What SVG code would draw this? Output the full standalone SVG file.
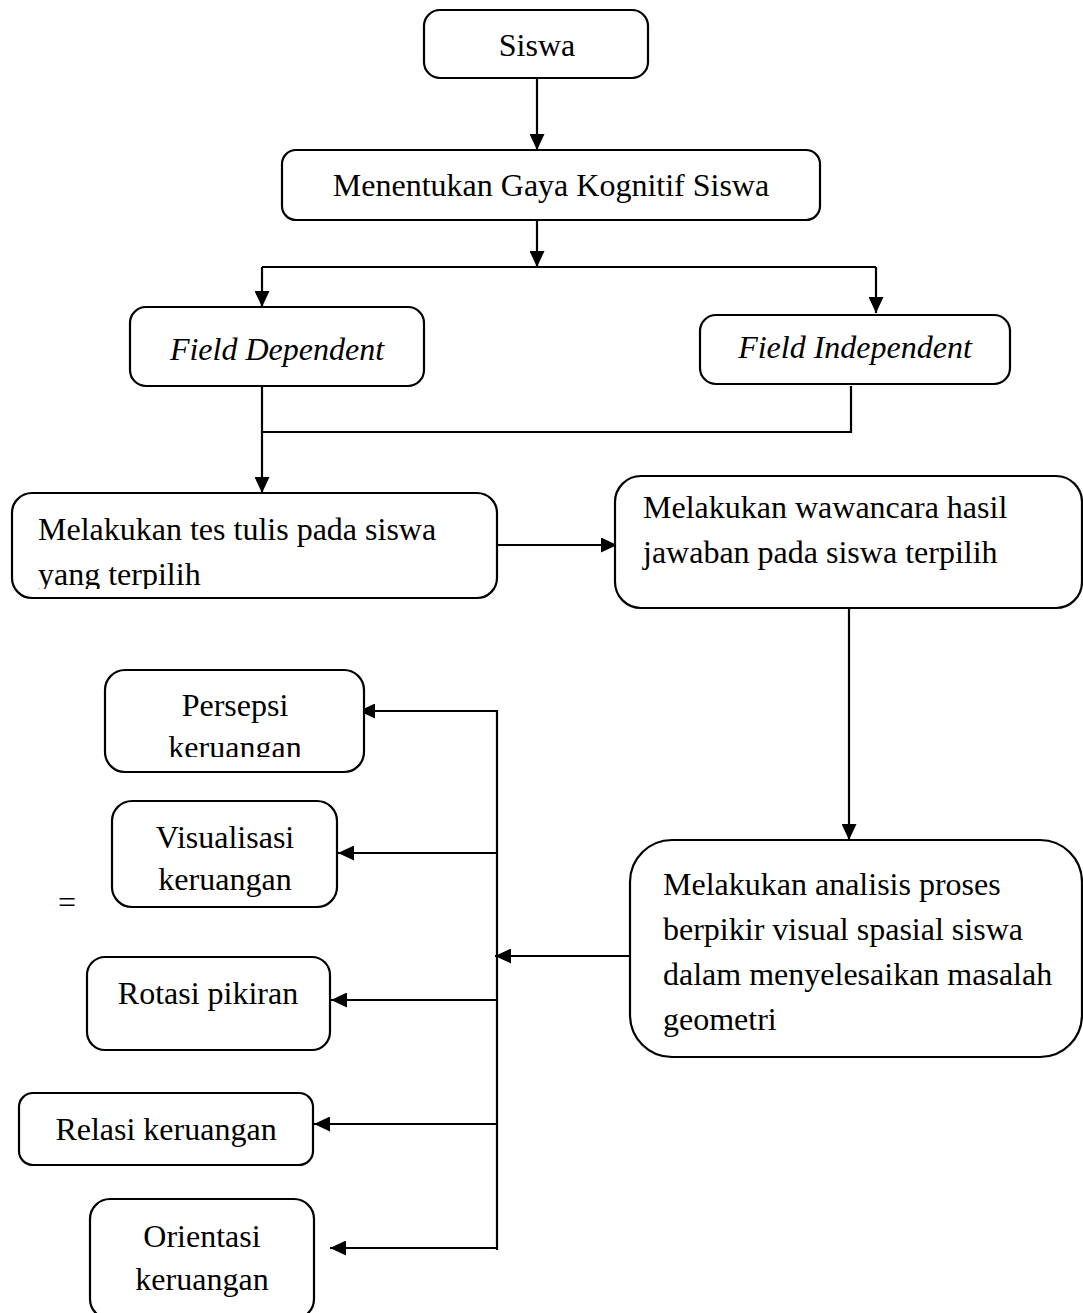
<svg xmlns="http://www.w3.org/2000/svg" width="1083" height="1313" viewBox="0 0 1083 1313">
<style>
.box{fill:#fff;stroke:#000;stroke-width:2.2}
.t{font-family:"Liberation Serif","Times New Roman",serif;font-size:32px;fill:#000}
.c{text-anchor:middle}
.i{font-style:italic}
.ln{fill:none;stroke:#000;stroke-width:2.2}
</style>
<defs>
<marker id="ah" markerUnits="userSpaceOnUse" markerWidth="17" markerHeight="15" refX="16" refY="7.5" orient="auto">
<path d="M0,0 L16,7.5 L0,15 z" fill="#000"/>
</marker>
<clipPath id="cp1"><rect x="0" y="0" width="1083" height="589"/></clipPath>
<clipPath id="cp2"><rect x="0" y="0" width="1083" height="757"/></clipPath>
</defs>
<rect width="1083" height="1313" fill="#fff"/>
<g id="connectors">
<line class="ln" x1="537" y1="78" x2="537" y2="150" marker-end="url(#ah)"/>
<line class="ln" x1="537" y1="220" x2="537" y2="267" marker-end="url(#ah)"/>
<polyline class="ln" points="262,267 876,267"/>
<line class="ln" x1="262" y1="267" x2="262" y2="307" marker-end="url(#ah)"/>
<line class="ln" x1="876" y1="267" x2="876" y2="313" marker-end="url(#ah)"/>
<line class="ln" x1="262" y1="386" x2="262" y2="493" marker-end="url(#ah)"/>
<polyline class="ln" points="262,432 851,432 851,386"/>
<line class="ln" x1="497" y1="545" x2="617" y2="545" marker-end="url(#ah)"/>
<line class="ln" x1="849" y1="608" x2="849" y2="840" marker-end="url(#ah)"/>
<line class="ln" x1="630" y1="956" x2="495" y2="956" marker-end="url(#ah)"/>
<line class="ln" x1="497" y1="710" x2="497" y2="1250"/>
<line class="ln" x1="497" y1="711" x2="359" y2="711" marker-end="url(#ah)"/>
<line class="ln" x1="497" y1="853" x2="338" y2="853" marker-end="url(#ah)"/>
<line class="ln" x1="497" y1="1000" x2="331" y2="1000" marker-end="url(#ah)"/>
<line class="ln" x1="497" y1="1124" x2="314" y2="1124" marker-end="url(#ah)"/>
<line class="ln" x1="497" y1="1248" x2="330" y2="1248" marker-end="url(#ah)"/>
</g>
<g id="siswa"><rect class="box" x="424" y="10" width="224" height="68" rx="16"/><text class="t c" x="537" y="56">Siswa</text></g>
<g id="menentukan"><rect class="box" x="282" y="150" width="538" height="70" rx="14"/><text class="t c" x="551" y="196">Menentukan Gaya Kognitif Siswa</text></g>
<g id="fd"><rect class="box" x="130" y="307" width="294" height="79" rx="16"/><text class="t c i" x="277" y="360">Field Dependent</text></g>
<g id="fi"><rect class="box" x="700" y="315" width="310" height="69" rx="16"/><text class="t c i" x="855" y="358">Field Independent</text></g>
<g id="tes"><rect class="box" x="12" y="493" width="485" height="105" rx="20"/><g clip-path="url(#cp1)"><text class="t" x="38" y="540">Melakukan tes tulis pada siswa</text><text class="t" x="38" y="585">yang terpilih</text></g></g>
<g id="wawancara"><rect class="box" x="615" y="476" width="467" height="132" rx="26"/><text class="t" x="643" y="518">Melakukan wawancara hasil</text><text class="t" x="643" y="563">jawaban pada siswa terpilih</text></g>
<g id="analisis"><rect class="box" x="630" y="840" width="452" height="217" rx="42"/><text class="t" x="663" y="895">Melakukan analisis proses</text><text class="t" x="663" y="940">berpikir visual spasial siswa</text><text class="t" x="663" y="985">dalam menyelesaikan masalah</text><text class="t" x="663" y="1030">geometri</text></g>
<g id="persepsi"><rect class="box" x="105" y="670" width="259" height="102" rx="20"/><g clip-path="url(#cp2)"><text class="t c" x="235" y="716">Persepsi</text><text class="t c" x="235" y="758">keruangan</text></g></g>
<g id="visualisasi"><rect class="box" x="112" y="801" width="225" height="106" rx="20"/><text class="t c" x="225" y="848">Visualisasi</text><text class="t c" x="225" y="890">keruangan</text></g>
<text class="t" x="58" y="913">=</text>
<g id="rotasi"><rect class="box" x="87" y="957" width="243" height="93" rx="18"/><text class="t c" x="208" y="1004">Rotasi pikiran</text></g>
<g id="relasi"><rect class="box" x="19" y="1093" width="294" height="72" rx="14"/><text class="t c" x="166" y="1140">Relasi keruangan</text></g>
<g id="orientasi"><rect class="box" x="90" y="1199" width="224" height="120" rx="20"/><text class="t c" x="202" y="1247">Orientasi</text><text class="t c" x="202" y="1290">keruangan</text></g>
</svg>
